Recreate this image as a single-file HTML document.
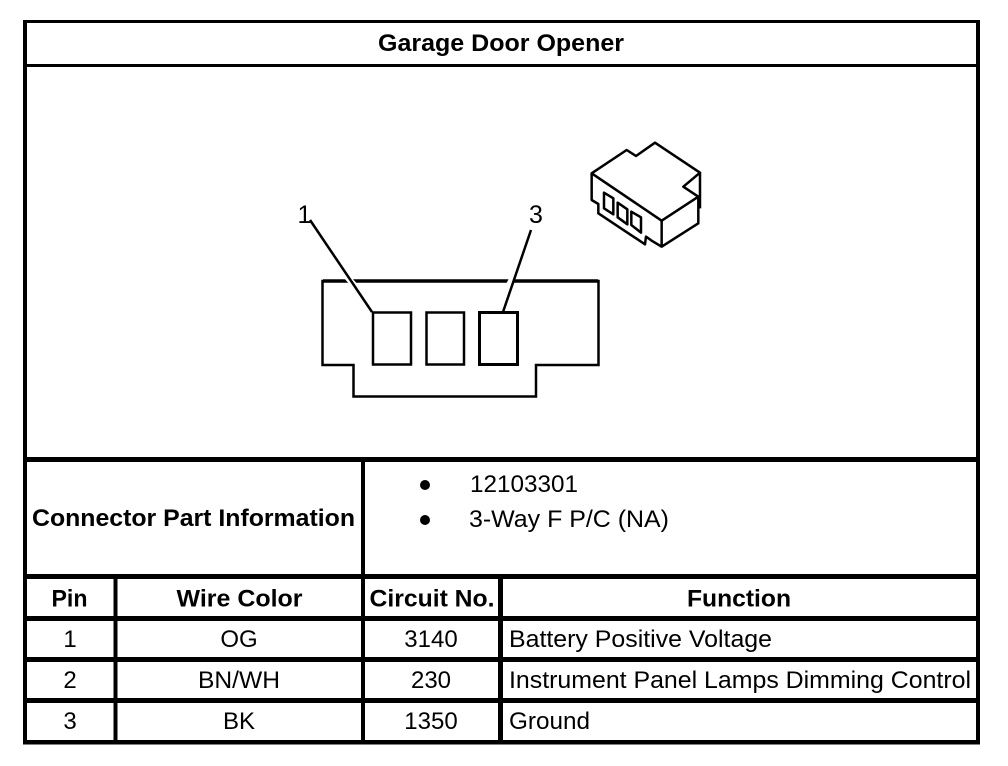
<!DOCTYPE html>
<html><head><meta charset="utf-8"><style>
html,body{margin:0;padding:0;background:#fff}
svg{display:block}
text{font-family:"Liberation Sans",sans-serif;font-size:24px;fill:#000}
.b{font-weight:bold}
.m{text-anchor:middle}
</style></head><body>
<svg width="1008" height="766" viewBox="0 0 1008 766" xmlns="http://www.w3.org/2000/svg">
<rect width="1008" height="766" fill="#fff"/>
<!-- table frame -->
<g fill="#000">
<rect x="23" y="20" width="957" height="3"/>
<rect x="23" y="64" width="957" height="3"/>
<rect x="23" y="457" width="957" height="5"/>
<rect x="23" y="574" width="957" height="5"/>
<rect x="23" y="616" width="957" height="5"/>
<rect x="23" y="657" width="957" height="5"/>
<rect x="23" y="698" width="957" height="5"/>
<rect x="23" y="740" width="957" height="4.500"/>
<rect x="23" y="20" width="4" height="724.500"/>
<rect x="976" y="20" width="4" height="724.500"/>
<rect x="361" y="457" width="4" height="287.500"/>
<rect x="113.500" y="574" width="4" height="170.500"/>
<rect x="498" y="574" width="5" height="170.500"/>
</g>
<!-- front view -->
<g fill="none" stroke="#000" stroke-linejoin="miter">
<path d="M322.500 365H353.500V396.500H536V365H598.500V281H322.500Z" stroke-width="2.500"/>
<path d="M323 281H598" stroke-width="3.500"/>
<rect x="373" y="312.500" width="38" height="52" stroke-width="2.500"/>
<rect x="426.500" y="312.500" width="37.500" height="52" stroke-width="2.500"/>
<rect x="479.500" y="312.500" width="38" height="52" stroke-width="3"/>
<path d="M347 277L356 287M513 277L508 287" stroke="#fff" stroke-width="6"/>
<path d="M310 220L372 312M531 230L503 312" stroke-width="2.500"/>
</g>
<!-- isometric connector -->
<g transform="translate(570 130) scale(.3333)" fill="none" stroke="#000" stroke-width="7.500" stroke-linejoin="round">
<path d="M65 130L170 60L198 78L255 38L390 128L340 170L385 200L275 272Z"/>
<path d="M390 128V235M275 272V350L385 280V200"/>
<path d="M65 130V210L85 222V250L225 343L228 320L245 332L275 350"/>
<path d="M102 188L130 205V253L102 235Z"/>
<path d="M143 218L172 238V283L143 262Z"/>
<path d="M184 245L213 262V308L184 285Z"/>
</g>
<!-- labels -->
<text x="501" y="51" class="b m" textLength="246" lengthAdjust="spacingAndGlyphs">Garage Door Opener</text>
<text x="304.500" y="223" class="m" style="font-size:25px">1</text>
<text x="536" y="223" class="m" style="font-size:25px">3</text>
<text x="32" y="526" class="b" textLength="323" lengthAdjust="spacingAndGlyphs">Connector Part Information</text>
<circle cx="425" cy="485" r="5" fill="#000"/>
<circle cx="425" cy="520" r="5" fill="#000"/>
<text x="470" y="492" textLength="108" lengthAdjust="spacingAndGlyphs">12103301</text>
<text x="469" y="527" textLength="200" lengthAdjust="spacingAndGlyphs">3-Way F P/C (NA)</text>
<text x="69.500" y="606.500" class="b m" textLength="36" lengthAdjust="spacingAndGlyphs">Pin</text>
<text x="239.500" y="606.500" class="b m" textLength="126" lengthAdjust="spacingAndGlyphs">Wire Color</text>
<text x="432" y="606.500" class="b m" textLength="125" lengthAdjust="spacingAndGlyphs">Circuit No.</text>
<text x="739" y="606.500" class="b m" textLength="104" lengthAdjust="spacingAndGlyphs">Function</text>
<text x="70" y="647" class="m">1</text>
<text x="239" y="647" class="m">OG</text>
<text x="431" y="647" class="m">3140</text>
<text x="509" y="647" textLength="263" lengthAdjust="spacingAndGlyphs">Battery Positive Voltage</text>
<text x="70" y="688" class="m">2</text>
<text x="239" y="688" class="m" textLength="82" lengthAdjust="spacingAndGlyphs">BN/WH</text>
<text x="431" y="688" class="m">230</text>
<text x="509" y="688" textLength="462" lengthAdjust="spacingAndGlyphs">Instrument Panel Lamps Dimming Control</text>
<text x="70" y="729" class="m">3</text>
<text x="239" y="729" class="m">BK</text>
<text x="431" y="729" class="m">1350</text>
<text x="509" y="729" textLength="81" lengthAdjust="spacingAndGlyphs">Ground</text>
</svg>
</body></html>
